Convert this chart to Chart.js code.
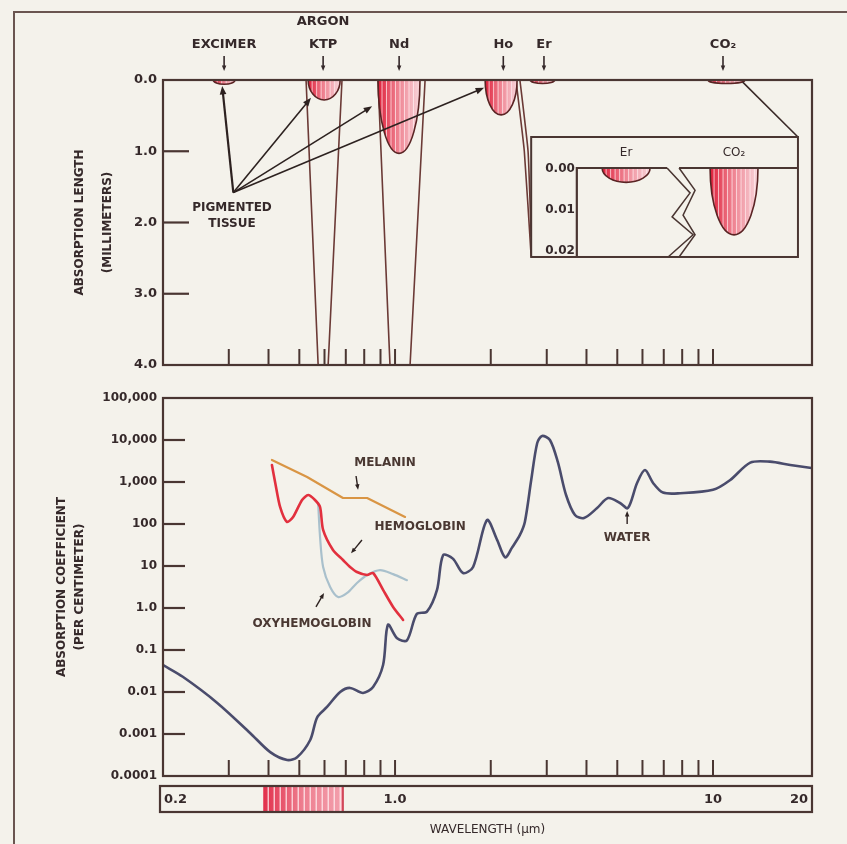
<!DOCTYPE html>
<html>
<head>
<meta charset="utf-8">
<script src="https://cdn.jsdelivr.net/npm/chart.js@4.4.1/dist/chart.umd.min.js"></script>
<style>
  html, body { margin: 0; padding: 0; background: #f4f2eb; }
  #wrap { position: relative; width: 847px; height: 844px; overflow: hidden; background: #f4f2eb; }
  #frame { position: absolute; left: 13px; top: 11px; width: 850px; height: 850px;
           border-left: 2px solid #6a5550; border-top: 2px solid #6a5550; }
  canvas { position: absolute; left: 0; }
  #upper { top: 0; }
  #lower { top: 380px; }
</style>
</head>
<body>
<div id="wrap">
  <div id="frame"></div>
  <canvas id="upper" width="847" height="380"></canvas>
  <canvas id="lower" width="847" height="464"></canvas>
</div>
<script>
// ---------- shared wavelength axis (µm) ----------
const WL_MIN = 0.1863;
const WL_MAX = 20.48;
const wavelengthTicks = [0.3, 0.4, 0.5, 0.6, 0.7, 0.8, 0.9, 1, 2, 3, 4, 5, 6, 7, 8, 9, 10];
const stripValues = [0.2, 1, 10, 20];
const stripLabels = ['0.2', '1.0', '10', '20'];
const visibleBand = [0.385, 0.686];

// ---------- upper panel: absorption length (mm) ----------
const laserLabels = [['EXCIMER'], ['ARGON', 'KTP'], ['Nd'], ['Ho'], ['Er'], ['CO\u2082']];
const laserWl = [0.29, 0.594, 1.03, 2.19, 2.94, 10.75];
const lobeLeftWl = [0.268, 0.533, 0.884, 1.92, 2.66, 9.65];
const lobeRightWl = [0.314, 0.672, 1.198, 2.42, 3.18, 12.6];
const lobeDepthMm = [0.06, 0.28, 1.03, 0.49, 0.05, 0.05];

// scattering envelopes below the visible / near-IR lasers
const envelopeWl = [[0.525, 0.573], [0.681, 0.616], [0.884, 0.964], [1.243, 1.115], [2.40, 2.55, 2.68], [2.47, 2.62, 2.68]];
const envelopeMm = [[0, 4], [0, 4], [0, 4], [0, 4], [0, 1.0, 2.48], [0, 1.0, 2.2]];

// pigmented tissue call-outs
const pigmentFromWl = 0.31;
const pigmentFromMm = 1.58;
const pigmentToWl = [0.286, 0.544, 0.847, 1.905];
const pigmentToMm = [0.085, 0.25, 0.37, 0.11];

// magnified inset: Er and CO2 depths (mm)
const insetNames = ['Er', 'CO\u2082'];
const insetDepthMm = [0.0035, 0.0163];
const insetTicks = [0, 0.01, 0.02];
const insetTickLabels = ['0.00', '0.01', '0.02'];
const connectorWl = [12.4, 18.5];
const connectorMm = [0.03, 0.80];

// ---------- lower panel: absorption coefficient (per cm) ----------
const coefTicks = [1e-4, 1e-3, 1e-2, 1e-1, 1, 10, 100, 1000, 10000, 100000];
const coefTickLabels = ['0.0001', '0.001', '0.01', '0.1', '1.0', '10', '100', '1,000', '10,000', '100,000'];

const waterWl = [0.186, 0.215, 0.276, 0.350, 0.405, 0.458, 0.492, 0.541, 0.569, 0.611, 0.672, 0.722, 0.793, 0.853,
  0.917, 0.95, 1.015, 1.09, 1.17, 1.26, 1.355, 1.416, 1.52, 1.636, 1.76, 1.946, 2.094, 2.22, 2.33, 2.47, 2.56,
  2.68, 2.80, 2.90, 3.07, 3.25, 3.45, 3.68, 3.93, 4.32, 4.68, 5.10, 5.40, 5.77, 6.11, 6.48, 6.96, 7.88, 10.0,
  11.3, 13.1, 15.1, 17.5, 20.4];
const waterCoef = [0.044, 0.023, 0.0055, 0.00106, 0.00037, 0.00024, 0.00028, 0.00072, 0.0025, 0.0044, 0.010, 0.0125,
  0.0095, 0.0132, 0.044, 0.40, 0.19, 0.17, 0.72, 0.82, 2.7, 18, 15, 6.8, 9.5, 124, 42, 16, 27, 55, 112,
  1100, 8500, 12500, 10000, 3000, 490, 164, 139, 240, 416, 316, 240, 950, 1930, 950, 560, 540, 650,
  1100, 2900, 3050, 2540, 2150];

const hemoglobinWl = [0.410, 0.420, 0.435, 0.457, 0.478, 0.510, 0.533, 0.560, 0.581, 0.594, 0.638, 0.686, 0.722,
  0.759, 0.817, 0.853, 0.917, 0.986, 1.06];
const hemoglobinCoef = [2540, 947, 254, 112, 147, 373, 490, 373, 254, 72, 24, 13.9, 9.5, 7.2, 6.1, 6.8, 2.7, 1.06, 0.52];

const oxyWl = [0.573, 0.581, 0.594, 0.625, 0.662, 0.707, 0.759, 0.817, 0.897, 0.986, 1.09];
const oxyCoef = [316, 49, 9.5, 3.16, 1.83, 2.28, 3.94, 6.1, 8.0, 6.4, 4.6];

const melaninWl = [0.410, 0.529, 0.686, 0.817, 1.075];
const melaninCoef = [3340, 1315, 416, 416, 147];

// ---------- styling ----------
const BG = '#f4f2eb';
const INK = '#35292a';
const AXIS = '#4a3632';
const FONT = '"DejaVu Sans", sans-serif';
Chart.defaults.font.family = FONT;
Chart.defaults.color = INK;

// annotation placement for the upper panel (wavelength, depth)
const INSET = {
  wl0: 2.68, wl1: 18.5, mm0: 0.80, mm1: 2.484,
  axisWl: 3.73, zeroMm: 1.235, fullMm: 2.386,
  slots: [[4.48, 6.34], [9.79, 13.85]],
  breakWl: 7.17, labelMm: 1.02,
  zig: [[[0, 0], [23, 0.28], [5, 0.55], [26, 0.75], [1, 1]], [[12, 0], [28, 0.25], [16, 0.53], [28, 0.75], [12, 1]]]
};
const PIGMENT_TEXT = { wl: 0.307, mm: [1.80, 2.02], lines: ['PIGMENTED', 'TISSUE'] };

// annotation placement for the lower panel (wavelength, coefficient)
const lowerNotes = [
  { text: 'MELANIN', wl: 0.93, v: 2840, from: [0.754, 1390], to: [0.765, 650] },
  { text: 'HEMOGLOBIN', wl: 1.2, v: 85, from: [0.787, 41.6], to: [0.727, 20] },
  { text: 'OXYHEMOGLOBIN', wl: 0.548, v: 0.42, from: [0.564, 1.06], to: [0.598, 2.28] },
  { text: 'WATER', wl: 5.37, v: 46, from: [5.37, 100], to: [5.37, 204] }
];

const pts = (xs, ys) => xs.map((x, i) => ({ x, y: ys[i] }));

function arrow(ctx, x1, y1, x2, y2, head, width) {
  const a = Math.atan2(y2 - y1, x2 - x1);
  ctx.lineWidth = width;
  ctx.beginPath();
  ctx.moveTo(x1, y1);
  ctx.lineTo(x2 - Math.cos(a) * head * 0.7, y2 - Math.sin(a) * head * 0.7);
  ctx.stroke();
  ctx.beginPath();
  ctx.moveTo(x2, y2);
  ctx.lineTo(x2 - head * Math.cos(a - 0.38), y2 - head * Math.sin(a - 0.38));
  ctx.lineTo(x2 - head * Math.cos(a + 0.38), y2 - head * Math.sin(a + 0.38));
  ctx.closePath();
  ctx.fill();
}

function lobe(ctx, xL, xR, y0, depth) {
  const cx = (xL + xR) / 2, rx = (xR - xL) / 2, ry = Math.max(depth, 2);
  ctx.save();
  ctx.beginPath();
  ctx.ellipse(cx, y0, rx, ry, 0, 0, Math.PI);
  ctx.closePath();
  const g = ctx.createLinearGradient(xL, 0, xR, 0);
  g.addColorStop(0, '#de1f3a');
  g.addColorStop(0.45, '#ee7d8c');
  g.addColorStop(1, '#f8d6db');
  ctx.fillStyle = g;
  ctx.fill();
  ctx.save();
  ctx.clip();
  ctx.strokeStyle = 'rgba(255,236,239,0.75)';
  ctx.lineWidth = 1;
  for (let x = xL + 4; x < xR - 2; x += 4.5) {
    ctx.beginPath(); ctx.moveTo(x, y0); ctx.lineTo(x, y0 + ry); ctx.stroke();
  }
  ctx.restore();
  ctx.beginPath();
  ctx.ellipse(cx, y0, rx, ry, 0, 0, Math.PI);
  ctx.strokeStyle = '#5a2424';
  ctx.lineWidth = 1.6;
  ctx.stroke();
  ctx.restore();
}

function frameBox(ctx, ca) {
  ctx.strokeStyle = AXIS;
  ctx.lineWidth = 2.2;
  ctx.strokeRect(ca.left, ca.top, ca.right - ca.left, ca.bottom - ca.top);
}

function bottomTicks(ctx, chart, len) {
  const x = chart.scales.x, ca = chart.chartArea;
  ctx.strokeStyle = AXIS;
  ctx.lineWidth = 2;
  wavelengthTicks.forEach(w => {
    const px = x.getPixelForValue(w);
    ctx.beginPath(); ctx.moveTo(px, ca.bottom); ctx.lineTo(px, ca.bottom - len); ctx.stroke();
  });
}

function leftTicks(ctx, chart, values, len) {
  const y = chart.scales.y, ca = chart.chartArea;
  ctx.strokeStyle = AXIS;
  ctx.lineWidth = 2.2;
  values.forEach(v => {
    const py = y.getPixelForValue(v);
    ctx.beginPath(); ctx.moveTo(ca.left, py); ctx.lineTo(ca.left + len, py); ctx.stroke();
  });
}

// ---------- upper panel decorations ----------
const upperDecor = {
  id: 'upperDecor',
  afterDatasetsDraw(chart) {
    const { ctx, chartArea: ca } = chart;
    const X = v => chart.scales.x.getPixelForValue(v);
    const Y = v => chart.scales.y.getPixelForValue(v);
    const y0 = Y(0);

    // absorption lobes hanging from the surface
    lobeLeftWl.forEach((l, i) => lobe(ctx, X(l), X(lobeRightWl[i]), y0, Y(lobeDepthMm[i]) - y0));

    // CO2 connector to the magnified inset
    ctx.strokeStyle = '#3a2a28';
    ctx.lineWidth = 1.6;
    ctx.beginPath();
    ctx.moveTo(X(connectorWl[0]), Y(connectorMm[0]));
    ctx.lineTo(X(connectorWl[1]), Y(connectorMm[1]));
    ctx.stroke();

    // inset box
    const bx0 = X(INSET.wl0), bx1 = X(INSET.wl1), by0 = Y(INSET.mm0), by1 = Y(INSET.mm1);
    ctx.fillStyle = BG;
    ctx.fillRect(bx0, by0, bx1 - bx0, by1 - by0);
    ctx.strokeStyle = AXIS;
    ctx.lineWidth = 2;
    ctx.strokeRect(bx0, by0, bx1 - bx0, by1 - by0);
    const ax = X(INSET.axisWl), zy = Y(INSET.zeroMm), fy = Y(INSET.fullMm);
    const dY = d => zy + d / insetTicks[insetTicks.length - 1] * (fy - zy);
    const brk = X(INSET.breakWl);
    insetDepthMm.forEach((d, i) => {
      const s = INSET.slots[i];
      lobe(ctx, X(s[0]), X(s[1]), zy, dY(d) - zy);
    });
    ctx.strokeStyle = AXIS;
    ctx.lineWidth = 2.2;
    ctx.beginPath();
    ctx.moveTo(ax, by1); ctx.lineTo(ax, zy); ctx.lineTo(brk, zy);
    ctx.moveTo(brk + INSET.zig[1][0][0], zy); ctx.lineTo(bx1, zy);
    ctx.stroke();
    ctx.lineWidth = 1.5;
    INSET.zig.forEach(z => {
      ctx.beginPath();
      z.forEach(([dx, f], k) => {
        const px = brk + dx, py = zy + f * (by1 - zy);
        k ? ctx.lineTo(px, py) : ctx.moveTo(px, py);
      });
      ctx.stroke();
    });
    ctx.fillStyle = INK;
    ctx.font = 'bold 12px ' + FONT;
    ctx.textAlign = 'right';
    ctx.textBaseline = 'middle';
    insetTicks.forEach((t, i) => ctx.fillText(insetTickLabels[i], ax - 2, dY(t) + 1));
    ctx.textAlign = 'center';
    ctx.font = '12px ' + FONT;
    insetNames.forEach((n, i) => {
      const s = INSET.slots[i];
      ctx.fillText(n, (X(s[0]) + X(s[1])) / 2, Y(INSET.labelMm));
    });

    // pigmented tissue call-outs
    ctx.strokeStyle = '#2d2220';
    ctx.fillStyle = '#2d2220';
    const ox = X(pigmentFromWl), oy = Y(pigmentFromMm);
    pigmentToWl.forEach((w, i) => arrow(ctx, ox, oy, X(w), Y(pigmentToMm[i]), 9, i === 0 ? 2.2 : 1.6));
    ctx.fillStyle = INK;
    ctx.font = 'bold 12px ' + FONT;
    ctx.textAlign = 'center';
    PIGMENT_TEXT.lines.forEach((t, i) => ctx.fillText(t, X(PIGMENT_TEXT.wl), Y(PIGMENT_TEXT.mm[i])));

    // axes
    leftTicks(ctx, chart, [1, 2, 3], 26);
    bottomTicks(ctx, chart, 16);
    frameBox(ctx, ca);

    // laser markers above the surface
    ctx.font = 'bold 13px ' + FONT;
    ctx.textAlign = 'center';
    ctx.textBaseline = 'middle';
    laserLabels.forEach((lines, i) => {
      const px = X(laserWl[i]);
      lines.forEach((t, k) => ctx.fillText(t, px, 45 - (lines.length - 1 - k) * 23));
      ctx.strokeStyle = INK;
      ctx.fillStyle = INK;
      arrow(ctx, px, 56, px, 71, 6, 1.6);
    });
  }
};

new Chart(document.getElementById('upper'), {
  type: 'scatter',
  data: {
    datasets: envelopeWl.map((ws, i) => ({
      data: pts(ws, envelopeMm[i]),
      showLine: true,
      borderColor: '#6b3a36',
      borderWidth: 1.6,
      pointRadius: 0,
      tension: 0.15
    }))
  },
  options: {
    responsive: false,
    animation: false,
    events: [],
    layout: { padding: { top: 80, right: 35, bottom: 15, left: 0 } },
    plugins: { legend: { display: false }, tooltip: { enabled: false } },
    scales: {
      x: { type: 'logarithmic', min: WL_MIN, max: WL_MAX, display: false },
      y: {
        min: 0, max: 4, reverse: true,
        afterFit: s => { s.width = 163; },
        grid: { display: false, drawTicks: false },
        border: { display: false },
        ticks: { stepSize: 1, padding: 6, color: INK, font: { size: 13, weight: 'bold' }, callback: v => v.toFixed(1) },
        title: {
          display: true, text: ['ABSORPTION LENGTH', '(MILLIMETERS)'], color: INK,
          font: { size: 12, weight: 'bold', lineHeight: 2.3 }, padding: { top: 66, bottom: 0 }
        }
      }
    }
  },
  plugins: [upperDecor]
});

// ---------- lower panel decorations ----------
const lowerDecor = {
  id: 'lowerDecor',
  afterDatasetsDraw(chart) {
    const { ctx, chartArea: ca } = chart;
    const X = v => chart.scales.x.getPixelForValue(v);
    const Y = v => chart.scales.y.getPixelForValue(v);

    leftTicks(ctx, chart, coefTicks.slice(1, -1), 22);
    bottomTicks(ctx, chart, 16);
    frameBox(ctx, ca);

    // curve labels
    ctx.font = 'bold 12px ' + FONT;
    ctx.textAlign = 'center';
    ctx.textBaseline = 'middle';
    lowerNotes.forEach(n => {
      ctx.fillStyle = '#4a3832';
      ctx.fillText(n.text, X(n.wl), Y(n.v));
      ctx.strokeStyle = '#2d2220';
      ctx.fillStyle = '#2d2220';
      arrow(ctx, X(n.from[0]), Y(n.from[1]), X(n.to[0]), Y(n.to[1]), 6, 1.4);
    });

    // wavelength strip with the visible band
    const sTop = ca.bottom + 10, sH = 26, sL = ca.left - 3, sR = ca.right;
    const b0 = X(visibleBand[0]), b1 = X(visibleBand[1]);
    const g = ctx.createLinearGradient(b0, 0, b1, 0);
    g.addColorStop(0, '#e2304c');
    g.addColorStop(0.5, '#ee7f90');
    g.addColorStop(1, '#f3a0ad');
    ctx.fillStyle = g;
    ctx.fillRect(b0, sTop, b1 - b0, sH);
    ctx.strokeStyle = 'rgba(255,240,242,0.85)';
    ctx.lineWidth = 1.3;
    for (let x = b0 + 5; x < b1 - 2; x += 6) {
      ctx.beginPath(); ctx.moveTo(x, sTop); ctx.lineTo(x, sTop + sH); ctx.stroke();
    }
    ctx.strokeStyle = '#c8283e';
    ctx.lineWidth = 1.5;
    ctx.beginPath(); ctx.moveTo(b1, sTop); ctx.lineTo(b1, sTop + sH); ctx.stroke();
    ctx.strokeStyle = AXIS;
    ctx.lineWidth = 2.2;
    ctx.strokeRect(sL, sTop, sR - sL, sH);
    ctx.fillStyle = INK;
    ctx.font = 'bold 13px ' + FONT;
    stripValues.forEach((v, i) => {
      const w = ctx.measureText(stripLabels[i]).width;
      let cx = X(v);
      cx = Math.max(sL + 4 + w / 2, Math.min(sR - 4 - w / 2, cx));
      ctx.fillText(stripLabels[i], cx, sTop + sH / 2 + 1);
    });
    ctx.font = '12px ' + FONT;
    ctx.fillText('WAVELENGTH (\u00b5m)', (ca.left + ca.right) / 2, sTop + sH + 18);
  }
};

const line = (data, color, width, order, tension) => ({
  data, showLine: true, borderColor: color, borderWidth: width, pointRadius: 0,
  tension, order, borderJoinStyle: 'round', borderCapStyle: 'round'
});

new Chart(document.getElementById('lower'), {
  type: 'scatter',
  data: {
    datasets: [
      line(pts(waterWl, waterCoef), '#4a4c6c', 2.6, 1, 0.3),
      line(pts(hemoglobinWl, hemoglobinCoef), '#e2303e', 2.6, 2, 0.25),
      line(pts(oxyWl, oxyCoef), '#a9c0cc', 2.2, 3, 0.3),
      line(pts(melaninWl, melaninCoef), '#d99544', 2.2, 4, 0)
    ]
  },
  options: {
    responsive: false,
    animation: false,
    events: [],
    layout: { padding: { top: 18, right: 35, bottom: 68, left: 0 } },
    plugins: { legend: { display: false }, tooltip: { enabled: false } },
    scales: {
      x: { type: 'logarithmic', min: WL_MIN, max: WL_MAX, display: false },
      y: {
        type: 'logarithmic', min: 1e-4, max: 1e5,
        afterFit: s => { s.width = 163; },
        afterBuildTicks: s => { s.ticks = coefTicks.map(v => ({ value: v })); },
        grid: { display: false, drawTicks: false },
        border: { display: false },
        ticks: {
          autoSkip: false, padding: 6, color: INK, font: { size: 12, weight: 'bold' },
          callback: (v, i) => coefTickLabels[i]
        },
        title: {
          display: true, text: ['ABSORPTION COEFFICIENT', '(PER CENTIMETER)'], color: INK,
          font: { size: 12, weight: 'bold', lineHeight: 1.5 }, padding: { top: 53, bottom: 0 }
        }
      }
    }
  },
  plugins: [lowerDecor]
});
</script>
</body>
</html>
